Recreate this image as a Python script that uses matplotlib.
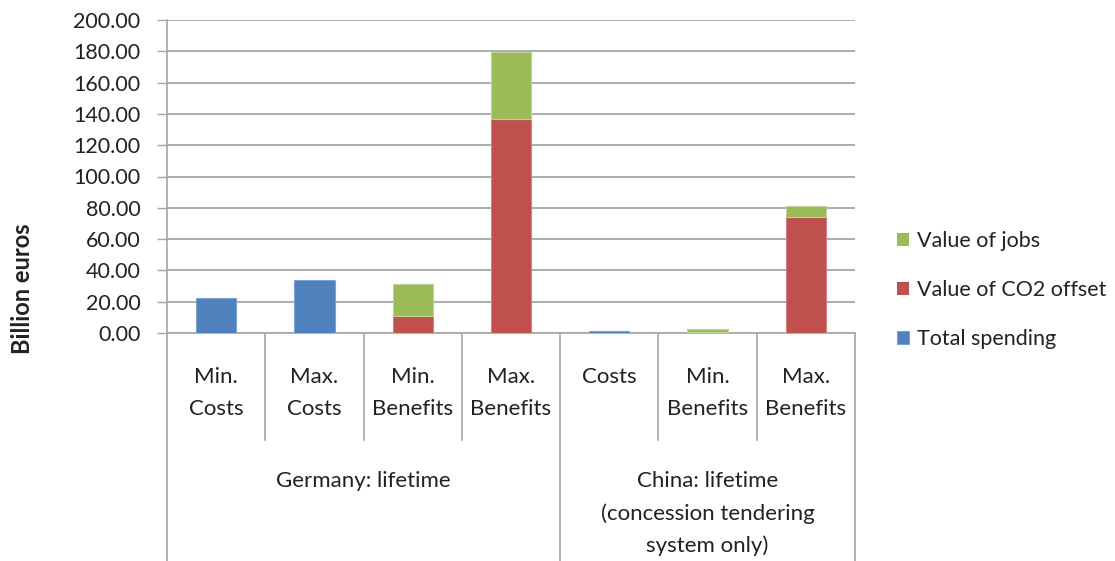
import matplotlib.pyplot as plt
import numpy as np

plt.rcParams['font.family'] = ['Lato', 'DejaVu Sans']

# 数据（十亿欧元）
categories = ['Min.\nCosts', 'Max.\nCosts', 'Min.\nBenefits', 'Max.\nBenefits',
              'Costs', 'Min.\nBenefits', 'Max.\nBenefits']
groups = ['Germany: lifetime', 'China: lifetime\n(concession tendering\nsystem only)']
group_sizes = [4, 3]
total_spending = [22.1, 33.8, 0, 0, 1.1, 0, 0]
co2_offset = [0, 0, 10.6, 136.8, 0, 0.9, 74.4]
value_jobs = [0, 0, 20.6, 42.8, 0, 1.7, 6.7]

blue = '#4F81BD'
red = '#C0504D'
green = '#9BBB59'
grid_c = '#A6A6A6'
text_c = '#222222'

W, H = 1115, 561
fig = plt.figure(figsize=(W / 100, H / 100), dpi=100)
ax = fig.add_axes([167 / W, 1 - 333 / H, (855 - 167) / W, 313 / H])

x = np.arange(len(categories))
spend = np.array(total_spending)
co2 = np.array(co2_offset)
jobs = np.array(value_jobs)
bw = 0.41


def edges_for(vals, c):
    # 零值的柱子不画边框
    return [c if v > 0 else 'none' for v in vals]


b1 = ax.bar(x, spend, bw, color=blue, edgecolor=edges_for(spend, '#7fa3d1'), lw=0.8,
            label='Total spending', zorder=3)
b2 = ax.bar(x, co2, bw, bottom=spend, color=red, edgecolor=edges_for(co2, '#d4807e'), lw=0.8,
            label='Value of CO2 offset', zorder=3)
b3 = ax.bar(x, jobs, bw, bottom=spend + co2, color=green, edgecolor=edges_for(jobs, '#bcd497'),
            lw=0.8, label='Value of jobs', zorder=3)

ax.set_xlim(-0.5, len(categories) - 0.5)
ax.set_ylim(0, 200)
ax.set_yticks(np.arange(0, 201, 20))
ax.set_yticklabels([f'{v:.2f}' for v in np.arange(0, 201, 20)], fontsize=15.5, color=text_c)
ax.tick_params(axis='y', length=7, width=1, color=grid_c, pad=12)
ax.set_xticks([])
ax.yaxis.grid(True, color=grid_c, lw=1.3, zorder=0)
for s in ['top', 'right']:
    ax.spines[s].set_visible(False)
for s in ['left', 'bottom']:
    ax.spines[s].set_color(grid_c)
    ax.spines[s].set_linewidth(1.2)

# 多级分类轴
tr = ax.get_xaxis_transform()
inner_bot = -(440 - 333) / 313
outer_bot = -(561 - 333) / 313
edges = np.arange(len(categories) + 1) - 0.5
outer = [0] + list(np.cumsum(group_sizes))
for i, e in enumerate(edges):
    yb = outer_bot if i in outer else inner_bot
    ax.plot([e, e], [0, yb], color=grid_c, lw=1.2, transform=tr, clip_on=False)

for xi, lab in zip(x, categories):
    ax.text(xi, -(367 - 333) / 313, lab, transform=tr, ha='center', va='top',
            fontsize=16, color=text_c, linespacing=1.75)

start = 0
for g, n in zip(groups, group_sizes):
    cx = start + (n - 1) / 2
    ax.text(cx, -(471 - 333) / 313, g, transform=tr, ha='center', va='top',
            fontsize=16, color=text_c, linespacing=1.72)
    start += n

fig.text(23 / W, 1 - 289 / H, 'Billion euros', rotation=90, ha='center', va='center',
         fontsize=17, fontweight='bold', color=text_c)

fig.legend(handles=[b3, b2, b1], loc='center left', bbox_to_anchor=(878 / W, 1 - 290 / H),
           frameon=False, fontsize=15.5, handlelength=0.55, handleheight=0.55,
           handletextpad=0.35, labelspacing=1.35, labelcolor=text_c)

fig.savefig('out.png', dpi=100)
